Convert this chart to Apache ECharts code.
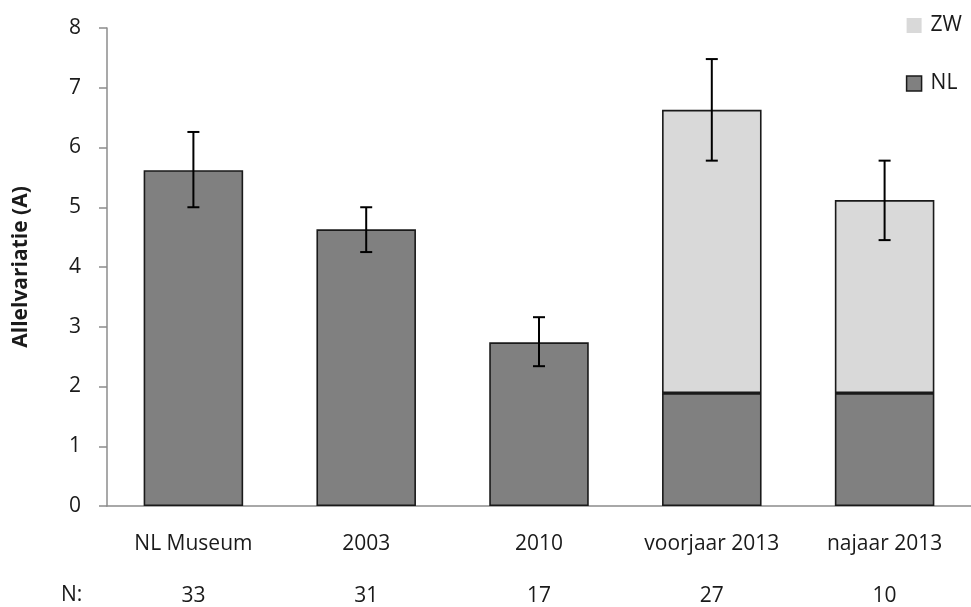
<!DOCTYPE html>
<html>
<head>
<meta charset="utf-8">
<script src="https://cdn.jsdelivr.net/npm/echarts@6/dist/echarts.min.js"></script>
<style>
  html, body { margin: 0; padding: 0; background: #fff; }
  #chart { width: 971px; height: 607px; }
</style>
</head>
<body>
<div id="chart"></div>
<script>
// Allele variation per sample group, split into Dutch (NL) and south-west (ZW) alleles
const categories = ['NL Museum', '2003', '2010', 'voorjaar 2013', 'najaar 2013'];
const sampleSizes = ['33', '31', '17', '27', '10'];
const nlValues = [5.62, 4.63, 2.74, 1.89, 1.89];
const zwValues = [0, 0, 0, 4.74, 3.23];
const errLow = [5.00, 4.25, 2.34, 5.78, 4.45];
const errHigh = [6.26, 5.00, 3.16, 7.48, 5.78];

const font = '"Open Sans", "Liberation Sans", sans-serif';
const textColor = '#1a1a1a';

const chart = echarts.init(document.getElementById('chart'));

const errorData = categories.map((c, i) => [i, errLow[i], errHigh[i]]);

chart.setOption({
  animation: false,
  backgroundColor: '#fff',
  textStyle: { fontFamily: font },
  grid: { left: 107, right: -4, top: 28, bottom: 99, containLabel: false },
  legend: {
    orient: 'vertical',
    right: 9,
    top: 15,
    padding: 0,
    icon: 'rect',
    itemWidth: 15,
    itemHeight: 15,
    itemGap: 37,
    textStyle: { fontFamily: font, fontSize: 21, lineHeight: 15, color: textColor, padding: [0, 0, 0, 4] },
    data: [
      { name: 'ZW', itemStyle: { borderWidth: 0 } },
      { name: 'NL', itemStyle: { borderWidth: 1.5, borderColor: '#1a1a1a' } }
    ]
  },
  xAxis: [
    {
      type: 'category',
      data: categories,
      axisLine: { lineStyle: { color: '#8c8c8c', width: 1.5 } },
      axisTick: { show: false },
      axisLabel: { fontFamily: font, fontSize: 21, color: textColor, margin: 28, interval: 0 }
    },
    {
      type: 'category',
      data: sampleSizes,
      position: 'bottom',
      offset: 52,
      axisLine: { show: false },
      axisTick: { show: false },
      axisLabel: { fontFamily: font, fontSize: 21, color: textColor, margin: 28, interval: 0 }
    }
  ],
  yAxis: {
    type: 'value',
    min: 0,
    max: 8,
    interval: 1,
    name: 'Allelvariatie (A)',
    nameLocation: 'middle',
    nameGap: 75,
    nameRotate: 90,
    nameTextStyle: { fontFamily: font, fontSize: 21, fontWeight: 'bold', color: textColor },
    axisLine: { show: true, lineStyle: { color: '#8c8c8c', width: 1.5 } },
    axisTick: { show: true, inside: false, length: 8, lineStyle: { color: '#8c8c8c', width: 1.5 } },
    splitLine: { show: false },
    axisLabel: { fontFamily: font, fontSize: 21, color: textColor, margin: 26 }
  },
  graphic: [
    {
      type: 'text',
      left: 61,
      top: 585,
      style: { text: 'N:', font: '21px ' + font, fill: textColor }
    }
  ],
  series: [
    {
      name: 'NL',
      type: 'bar',
      stack: 'total',
      data: nlValues,
      barWidth: '57.6%',
      itemStyle: { color: '#808080', borderColor: '#1a1a1a', borderWidth: 1.6 }
    },
    {
      name: 'ZW',
      type: 'bar',
      stack: 'total',
      data: zwValues.map(v => (v > 0 ? v : null)),
      barWidth: '57.6%',
      itemStyle: { color: '#d9d9d9', borderColor: '#1a1a1a', borderWidth: 1.6 }
    },
    {
      name: 'error',
      type: 'custom',
      data: errorData,
      z: 10,
      renderItem: function (params, api) {
        const x = api.value(0);
        const lo = api.coord([x, api.value(1)]);
        const hi = api.coord([x, api.value(2)]);
        const half = 6;
        const style = { stroke: '#000', lineWidth: 2, fill: null };
        return {
          type: 'group',
          children: [
            { type: 'line', shape: { x1: hi[0], y1: hi[1], x2: lo[0], y2: lo[1] }, style: style },
            { type: 'line', shape: { x1: hi[0] - half, y1: hi[1], x2: hi[0] + half, y2: hi[1] }, style: style },
            { type: 'line', shape: { x1: lo[0] - half, y1: lo[1], x2: lo[0] + half, y2: lo[1] }, style: style }
          ]
        };
      }
    }
  ]
});
</script>
</body>
</html>
